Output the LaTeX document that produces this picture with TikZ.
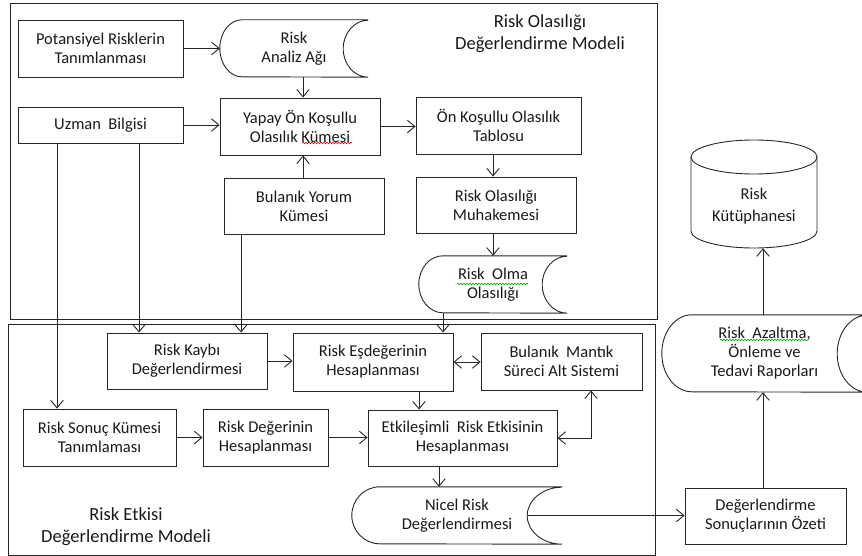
\documentclass[tikz,border=0pt]{standalone}
\usepackage{fontspec}
\setmainfont{Carlito}
\usetikzlibrary{arrows.meta,calc,decorations.pathmorphing}
\begin{document}
\begin{tikzpicture}[x=1pt,y=-1pt,
  line/.style={draw=black!85,line width=0.9pt},
  txt/.style={inner sep=0pt, align=center, text=black!90, font=\fontsize{16.5}{19}\selectfont},
  box/.style={txt, line, rectangle},
  title/.style={inner sep=0pt, align=center, text=black!90, font=\fontsize{18.5}{22}\selectfont},
  tip/.tip={Straight Barb[length=7.5pt,width=12.5pt,line width=0.9pt]},
  arr/.style={line, -tip},
  darr/.style={line, tip-tip},
  wavy/.style={line width=0.6pt, decorate, decoration={snake, amplitude=0.8pt, segment length=3pt}}]
\newcommand\stdata[4]{%
  \draw[line] (#1.north east) -- ([xshift=#3 pt]#1.north west)
    arc[start angle=90,end angle=270,x radius=#3 pt,y radius=#2 pt]
    -- (#1.south east)
    arc[start angle=270,end angle=90,x radius=#4 pt,y radius=#2 pt];}
\useasboundingbox (0,0) rectangle (862,556);

% frames
\draw[line] (10,3) rectangle (657,319);
\draw[line] (8,324) rectangle (655,555);
\node[title] (t1) at (540,34) {Risk Olasılığı\\Değerlendirme Modeli};
\node[title] (t2) at (126,527) {Risk Etkisi\\Değerlendirme Modeli};

% upper model
\node[box, minimum width=165, minimum height=57] (pot) at (100.5,48.5) {Potansiyel Risklerin\\Tanımlanması};
\node[txt, minimum width=148, minimum height=57] (ana) at (294,48.5) {Risk\\Analiz Ağı};
\stdata{ana}{28.5}{22}{25}
\node[box, minimum width=165, minimum height=36] (uzm) at (100.5,125) {Uzman~ Bilgisi};
\node[box, minimum width=160, minimum height=57] (yap) at (300,126.5) {Yapay Ön Koşullu\\Olasılık Kümesi};
\node[box, minimum width=165, minimum height=57] (tab) at (498.5,125.5) {Ön Koşullu Olasılık\\Tablosu};
\node[box, minimum width=160, minimum height=56] (yor) at (304,206) {Bulanık Yorum\\Kümesi};
\node[box, minimum width=160, minimum height=56] (muh) at (496,205) {Risk Olasılığı\\Muhakemesi};
\node[txt, minimum width=148, minimum height=57] (olm) at (493,284.5) {Risk~ Olma\\Olasılığı};
\stdata{olm}{28.5}{24}{25}

% right side
\node[txt, minimum width=126, minimum height=84] (lib) at (754,206) {Risk\\[3pt]Kütüphanesi};
\draw[line] (691,157) -- (691,231) arc[start angle=180,end angle=360,x radius=63pt,y radius=17pt] -- (817,157);
\draw[line] (754,157) ellipse [x radius=63pt,y radius=17pt];
\node[txt, minimum width=205, minimum height=77] (az) at (764.5,353.5) {Risk~ Azaltma,\\Önleme ve\\Tedavi Raporları};
\stdata{az}{38.5}{30}{30}
\node[box, minimum width=161, minimum height=56] (ozt) at (765.5,516) {Değerlendirme\\Sonuçlarının Özeti};

% lower model
\node[box, minimum width=160, minimum height=56] (kay) at (187,361) {Risk Kaybı\\Değerlendirmesi};
\node[box, minimum width=160, minimum height=58] (esd) at (373,362) {Risk Eşdeğerinin\\Hesaplanması};
\node[box, minimum width=161, minimum height=57] (bm) at (561.5,361.5) {Bulanık~ Mantık\\Süreci Alt Sistemi};
\node[box, minimum width=153, minimum height=57] (son) at (99.5,437.5) {Risk Sonuç Kümesi\\Tanımlaması};
\node[box, minimum width=125, minimum height=57] (deg) at (265.5,437.5) {Risk Değerinin\\Hesaplanması};
\node[box, minimum width=189, minimum height=56] (etk) at (462.5,438) {Etkileşimli~ Risk Etkisinin\\Hesaplanması};
\node[txt, minimum width=210, minimum height=57] (nic) at (457,515.5) {Nicel Risk\\Değerlendirmesi};
\stdata{nic}{28.5}{28}{35}

% spell-check underlines
\draw[wavy, red] (302,143) -- (352,143);
\draw[wavy, green!60!black] (457,284) -- (528,284);
\draw[wavy, green!60!black] (720,340) -- (808,340);

% connectors
\draw[arr] (pot.east) -- (ana.west);
\draw[arr] ([xshift=9pt]ana.south) -- ([xshift=9pt]ana.south |- yap.north);
\draw[arr] (uzm.east) -- (uzm.east -| yap.west);
\draw[arr] (yap.east) -- (yap.east -| tab.west);
\draw[arr] ([xshift=-1pt]yor.north) -- ([xshift=-1pt]yor.north |- yap.south);
\draw[arr] ([xshift=-5.5pt]tab.south) -- ([xshift=-5.5pt]tab.south |- muh.north);
\draw[arr] ([xshift=-3pt]muh.south) -- ([xshift=-3pt]muh.south |- olm.north);
\draw[arr] ([xshift=-50pt]olm.south) -- ([xshift=-50pt]olm.south |- esd.north);
\draw[arr] ([xshift=-43.5pt]uzm.south) -- ([xshift=-43.5pt]uzm.south |- son.north);
\draw[arr] ([xshift=38.5pt]uzm.south) -- ([xshift=38.5pt]uzm.south |- kay.north);
\draw[arr] ([xshift=-63pt]yor.south) -- ([xshift=-63pt]yor.south |- kay.north);
\draw[arr] (kay.east) -- (kay.east -| esd.west);
\draw[darr] (esd.east) -- (esd.east -| bm.west);
\draw[arr] ([xshift=46pt]esd.south) -- ([xshift=46pt]esd.south |- etk.north);
\draw[arr] (son.east) -- (son.east -| deg.west);
\draw[arr] (deg.east) -- (deg.east -| etk.west);
\draw[darr] (etk.east) -| ([xshift=29.5pt]bm.south);
\draw[arr] ([xshift=-23.5pt]etk.south) -- ([xshift=-23.5pt]etk.south |- nic.north);
\draw[arr] ([xshift=-35pt]nic.east) -- (nic.east -| ozt.west);
\draw[arr] ([xshift=-2.5pt]ozt.north) -- ([xshift=-2.5pt]ozt.north |- az.south);
\draw[arr] ([xshift=-1.5pt]az.north) -- ([xshift=-1.5pt]az.north |- lib.south);
\end{tikzpicture}
\end{document}
